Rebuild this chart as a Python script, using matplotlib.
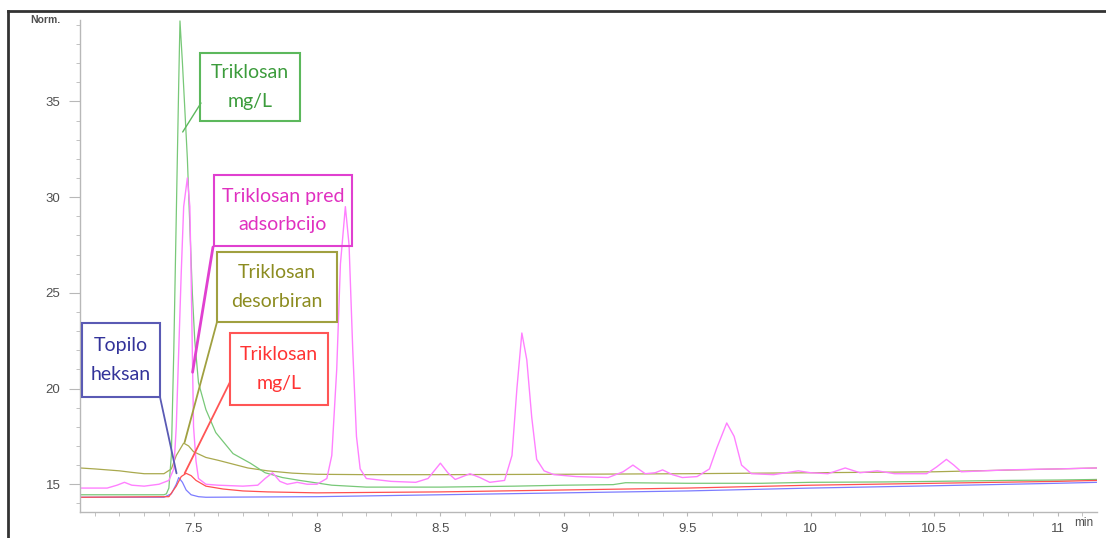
import matplotlib
matplotlib.use("Agg")
import matplotlib.pyplot as plt
from matplotlib.patches import Rectangle
from matplotlib.lines import Line2D
from matplotlib.ticker import MultipleLocator

W, H = 1106, 538

# ---- chromatogram traces (time in min, signal in Norm.) ----
green_t = [7.04, 7.2, 7.38, 7.39, 7.40, 7.41, 7.42, 7.43, 7.44, 7.445, 7.455, 7.465,
           7.475, 7.485, 7.495, 7.505, 7.52, 7.55, 7.59, 7.66, 7.73, 7.79, 7.86, 7.93,
           8.06, 8.2, 8.5, 8.8, 9.0, 9.2, 9.25, 9.5, 9.8, 10.0, 10.3, 10.5, 10.8, 11.0, 11.16]
green_y = [14.45, 14.45, 14.45, 14.5, 14.8, 16.5, 22.0, 29.0, 36.0, 39.2, 37.0, 34.5,
           32.0, 28.5, 25.0, 22.5, 20.3, 18.9, 17.7, 16.6, 16.1, 15.6, 15.35, 15.2,
           14.95, 14.85, 14.85, 14.9, 14.95, 14.98, 15.08, 15.05, 15.05, 15.1, 15.12, 15.15,
           15.2, 15.22, 15.25]

pink_t = [7.04, 7.15, 7.19, 7.22, 7.25, 7.30, 7.36, 7.40, 7.42, 7.43, 7.44, 7.45, 7.46,
          7.475, 7.485, 7.49, 7.495, 7.50, 7.51, 7.52, 7.55, 7.6, 7.7, 7.76, 7.79, 7.82,
          7.85, 7.88, 7.92, 7.96, 8.00, 8.04, 8.06, 8.08, 8.095, 8.115, 8.13, 8.145, 8.16,
          8.175, 8.20, 8.3, 8.4, 8.45, 8.50, 8.53, 8.56, 8.62, 8.66, 8.70, 8.76, 8.79,
          8.81, 8.83, 8.85, 8.87, 8.89, 8.92, 8.96, 9.05, 9.18, 9.24, 9.28, 9.33, 9.37,
          9.40, 9.44, 9.48, 9.54, 9.59, 9.62, 9.66, 9.69, 9.72, 9.76, 9.85, 9.95, 10.0,
          10.07, 10.14, 10.2, 10.27, 10.34, 10.47, 10.51, 10.55, 10.58, 10.61, 10.7, 10.8,
          10.9, 11.0, 11.16]
pink_y = [14.8, 14.8, 14.95, 15.1, 14.95, 14.9, 15.0, 15.2, 15.8, 18.0, 22.0, 26.0, 29.5,
          31.0, 29.5, 26.0, 22.0, 18.0, 16.2, 15.3, 15.0, 14.95, 14.9, 14.95, 15.3, 15.6,
          15.15, 15.0, 15.1, 15.0, 15.0, 15.3, 16.5, 21.0, 26.5, 29.5, 27.5, 22.0, 17.5,
          15.8, 15.3, 15.15, 15.1, 15.3, 16.1, 15.6, 15.25, 15.55, 15.35, 15.1, 15.2, 16.5,
          20.0, 22.9, 21.5, 18.5, 16.3, 15.7, 15.5, 15.4, 15.35, 15.65, 16.0, 15.55, 15.6,
          15.75, 15.5, 15.35, 15.4, 15.8, 16.9, 18.2, 17.5, 16.0, 15.55, 15.5, 15.7, 15.6,
          15.55, 15.85, 15.6, 15.7, 15.55, 15.55, 15.9, 16.3, 16.0, 15.65, 15.7, 15.75,
          15.78, 15.8, 15.85]

olive_t = [7.04, 7.1, 7.15, 7.2, 7.25, 7.3, 7.38, 7.41, 7.43, 7.46, 7.48, 7.50, 7.55,
           7.6, 7.66, 7.72, 7.8, 7.9, 8.0, 8.2, 8.5, 9.0, 9.5, 10.0, 10.5, 11.0, 11.16]
olive_y = [15.85, 15.8, 15.75, 15.7, 15.62, 15.55, 15.55, 15.8, 16.5, 17.15, 17.0, 16.7,
           16.4, 16.25, 16.05, 15.85, 15.7, 15.58, 15.52, 15.5, 15.5, 15.52, 15.55, 15.6,
           15.65, 15.8, 15.85]

blue_t = [7.04, 7.38, 7.41, 7.43, 7.44, 7.455, 7.47, 7.49, 7.52, 7.55, 8.0, 8.5, 9.0,
          9.5, 10.0, 10.5, 11.0, 11.16]
blue_y = [14.32, 14.32, 14.5, 15.0, 15.35, 15.1, 14.7, 14.45, 14.35, 14.32, 14.35, 14.45,
          14.55, 14.65, 14.8, 14.92, 15.05, 15.1]

red_t = [7.04, 7.40, 7.43, 7.45, 7.47, 7.49, 7.51, 7.55, 7.62, 7.7, 7.8, 8.0, 8.5, 9.0,
         9.5, 10.0, 10.5, 11.0, 11.16]
red_y = [14.32, 14.35, 14.9, 15.4, 15.57, 15.45, 15.2, 14.9, 14.75, 14.65, 14.6, 14.55,
         14.6, 14.7, 14.8, 14.95, 15.05, 15.15, 15.2]

# callout labels and where their leader lines touch the traces
labels = ["Triklosan\nmg/L", "Triklosan pred\nadsorbcijo", "Triklosan\ndesorbiran",
          "Triklosan\nmg/L", "Topilo\nheksan"]
label_t = [7.456, 7.496, 7.464, 7.464, 7.431]
label_y = [33.4, 20.85, 17.2, 15.57, 15.57]

x_ticks = [7.5, 8, 8.5, 9, 9.5, 10, 10.5, 11]
x_tick_labels = ["7.5", "8", "8.5", "9", "9.5", "10", "10.5", "11"]
y_ticks = [15, 20, 25, 30, 35]


def fx(px):
    return px / W


def fy(py):
    return 1 - py / H


fig = plt.figure(figsize=(W / 100, H / 100), dpi=100)
ax = fig.add_axes([fx(80), fy(512), fx(1097) - fx(80), fy(20) - fy(512)])

ax.plot(olive_t, olive_y, color="#a9a94e", lw=0.9)
ax.plot(green_t, green_y, color="#78c878", lw=0.9)
ax.plot(blue_t, blue_y, color="#7c7cff", lw=0.9)
ax.plot(red_t, red_y, color="#ff5050", lw=0.9)
ax.plot(pink_t, pink_y, color="#ff80ff", lw=1.0)

ax.set_xlim(7.04, 11.16)
ax.set_ylim(13.55, 39.25)

for side in ["top", "right"]:
    ax.spines[side].set_visible(False)
for side in ["left", "bottom"]:
    ax.spines[side].set_color("#b8b8b8")
    ax.spines[side].set_linewidth(1.0)

ax.set_xticks(x_ticks)
ax.set_xticklabels(x_tick_labels)
ax.set_yticks(y_ticks)
ax.xaxis.set_minor_locator(MultipleLocator(0.1))
ax.yaxis.set_minor_locator(MultipleLocator(1))
ax.tick_params(axis="x", which="both", length=3, color="#b8b8b8", labelsize=9.5,
               labelcolor="#505050", pad=5)
ax.tick_params(axis="y", which="major", length=8, color="#b8b8b8", labelsize=9.5,
               labelcolor="#505050", pad=6)
ax.tick_params(axis="y", which="minor", length=3, color="#b8b8b8")
for lab in ax.get_xticklabels() + ax.get_yticklabels():
    lab.set_fontfamily("Liberation Sans")

fig.text(fx(30), fy(20), "Norm.", fontsize=7.5, color="#505050",
         family="Liberation Sans", fontweight="bold", va="center")
fig.text(fx(1074), fy(523), "min", fontsize=8.5, color="#505050",
         family="Liberation Sans", va="center")

# screenshot frame
fig.add_artist(Line2D([fx(8), fx(8)], [0, fy(11)], transform=fig.transFigure,
                      color="#333333", lw=2))
fig.add_artist(Line2D([fx(8), 1], [fy(11), fy(11)], transform=fig.transFigure,
                      color="#333333", lw=2))

# callout boxes: (left, top, right, bottom) in pixels, leader start, colours
boxes = [
    ((200, 53, 300, 121), (201, 103), "#5cb85c", "#3c9c3c", 1.0),
    ((214, 175, 352, 246), (213, 247), "#e040d0", "#e030c0", 2.0),
    ((217, 252, 337, 322), (217, 322), "#a0a040", "#8c8c20", 1.3),
    ((230, 333, 328, 405), (230, 382), "#ff5555", "#ff3333", 1.3),
    ((82, 323, 160, 397), (160, 397), "#5a5ab4", "#33339a", 1.3),
]

for (text, t, y, box) in zip(labels, label_t, label_y, boxes):
    (l, tp, r, b), start, edge, tcol, lw = box
    fig.add_artist(Rectangle((fx(l), fy(b)), fx(r) - fx(l), fy(tp) - fy(b),
                             transform=fig.transFigure, facecolor="none",
                             edgecolor=edge, lw=1.5))
    fig.text(fx((l + r) / 2), fy((tp + b) / 2), text, ha="center", va="center",
             color=tcol, fontsize=14, family="Lato", linespacing=1.85)
    ax.annotate("", xy=(t, y), xycoords="data", xytext=(fx(start[0]), fy(start[1])),
                textcoords="figure fraction", annotation_clip=False,
                arrowprops=dict(arrowstyle="-", color=edge, lw=lw,
                                shrinkA=0, shrinkB=0))

fig.savefig("out.png", dpi=100)
